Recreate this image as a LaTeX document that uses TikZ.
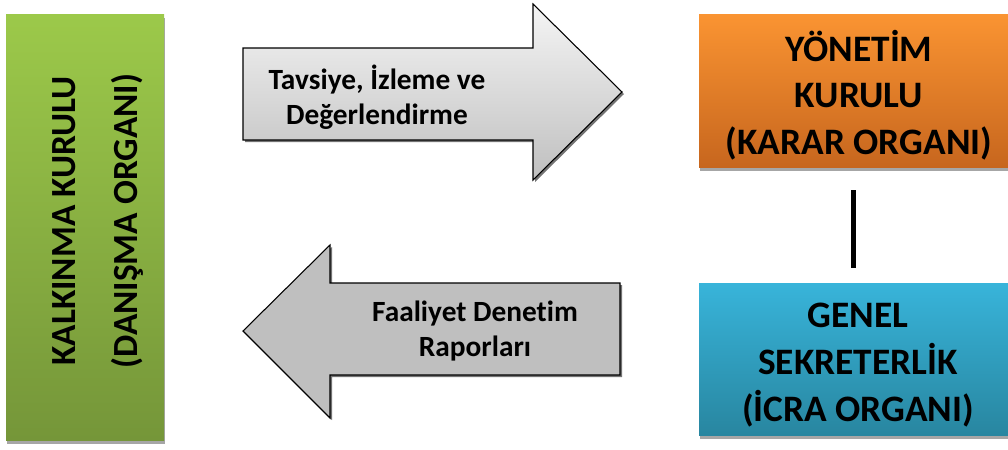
\documentclass[tikz,border=0pt]{standalone}
\usepackage{fontspec}
\setmainfont[Ligatures=NoCommon]{Carlito}
\usetikzlibrary{shadows}

\begin{document}
\begin{tikzpicture}[x=0.75pt,y=-0.75pt,thick]
    \tikzstyle{box}=[draw=none,inner sep=0pt,drop shadow={shadow xshift=1pt,shadow yshift=-3pt,fill=black!35,opacity=1}]
    \tikzstyle{boxtext}=[align=center,font=\fontsize{28}{35}\selectfont\bfseries]
    \tikzstyle{arrowtext}=[align=center,font=\fontsize{22}{26.5}\selectfont\bfseries]
    \tikzstyle{blockarrow}=[draw=black,line width=0.8pt,line join=miter,drop shadow={shadow xshift=1.5pt,shadow yshift=-1.5pt,fill=black!55,opacity=1}]

    \useasboundingbox (0,0) rectangle (1008,450);

    % Boxes
    \node[box,minimum width=118.5pt,minimum height=319.5pt,top color={rgb,255:red,156;green,201;blue,74},bottom color={rgb,255:red,117;green,150;blue,57}] (kk) at (85,227) {};
    \node[box,minimum width=231.75pt,minimum height=114.75pt,top color={rgb,255:red,250;green,148;blue,50},bottom color={rgb,255:red,199;green,102;blue,30}] (yk) at (853.5,90.5) {};
    \node[box,minimum width=231.75pt,minimum height=114pt,top color={rgb,255:red,56;green,180;blue,218},bottom color={rgb,255:red,40;green,134;blue,160}] (gs) at (853.5,359) {};

    % Texts
    \node[boxtext,rotate=90,font=\fontsize{26.5}{46}\selectfont\bfseries] (kktext) at (98,221) {KALKINMA KURULU\\(DANIŞMA ORGANI)};
    \node[boxtext] (yktext) at (859,95) {YÖNETİM\\KURULU\\(KARAR ORGANI)};
    \node[boxtext] (gstext) at (858,365) {GENEL\\SEKRETERLİK\\(İCRA ORGANI)};

    % Arrows
    \path[blockarrow,top color=black!4,bottom color=black!25]
        (243,48) -- (533,48) -- (533,4) -- (622,92) -- (533,180) -- (533,140) -- (243,140) -- cycle;
    \path[blockarrow,fill=black!25]
        (620,283) -- (330,283) -- (330,245) -- (243,331) -- (330,418) -- (330,375) -- (620,375) -- cycle;
    \node[arrowtext] (tavsiye) at (377,97) {Tavsiye, İzleme ve\\Değerlendirme};
    \node[arrowtext] (faaliyet) at (475,331) {Faaliyet Denetim\\Raporları};

    % Link
    \draw[line width=3.5pt,shorten <=17pt,shorten >=11pt] (yk) -- (gs);
\end{tikzpicture}
\end{document}
